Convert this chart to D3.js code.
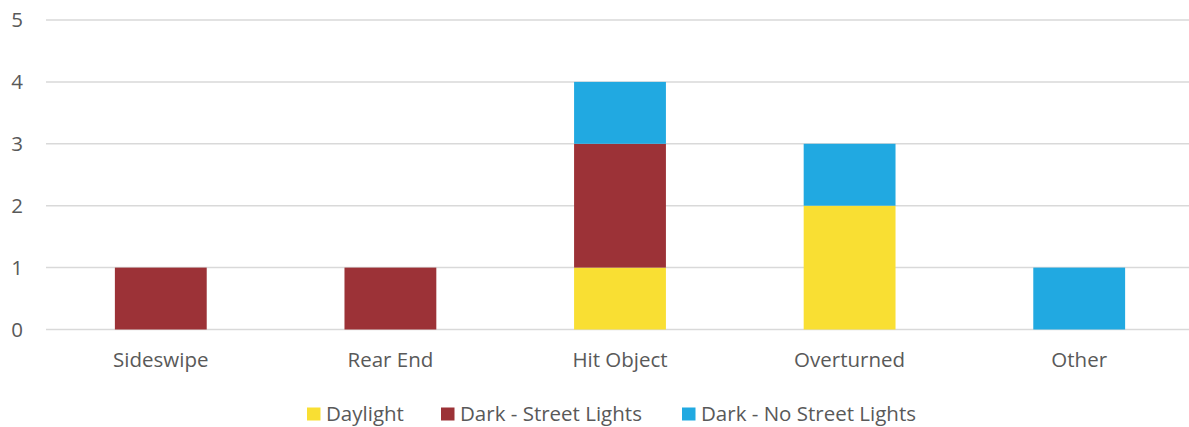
<!DOCTYPE html>
<html>
<head>
<meta charset="utf-8">
<script src="https://cdn.jsdelivr.net/npm/d3@7"></script>
<style>
  body { margin: 0; background: #fff; }
  text { font-family: "Open Sans", sans-serif; fill: #595959; }
</style>
</head>
<body>
<div id="chart"></div>
<script>
// chart data
const categories = ["Sideswipe", "Rear End", "Hit Object", "Overturned", "Other"];
const seriesNames = ["Daylight", "Dark - Street Lights", "Dark - No Street Lights"];
const daylight = [0, 0, 1, 2, 0];
const darkStreetLights = [1, 1, 2, 0, 0];
const darkNoStreetLights = [0, 0, 1, 1, 1];
const yTicks = [0, 1, 2, 3, 4, 5];

const colors = ["#F9DF33", "#9C3237", "#21A9E1"];

const width = 1189, height = 427;
const margin = { top: 20, right: -5, bottom: 97.5, left: 46 };
const fontSize = "20.5px";

const svg = d3.select("#chart").append("svg")
  .attr("width", width)
  .attr("height", height);

const x = d3.scaleBand()
  .domain(categories)
  .range([margin.left, width - margin.right])
  .paddingInner(0.6)
  .paddingOuter(0.3);

const y = d3.scaleLinear()
  .domain([0, 5])
  .range([height - margin.bottom, margin.top]);

// gridlines
svg.append("g")
  .selectAll("line")
  .data(yTicks)
  .join("line")
  .attr("x1", margin.left)
  .attr("x2", width - margin.right)
  .attr("y1", d => y(d))
  .attr("y2", d => y(d))
  .attr("stroke", "#d9d9d9")
  .attr("stroke-width", 1.5);

// y labels
svg.append("g")
  .selectAll("text")
  .data(yTicks)
  .join("text")
  .attr("x", 17)
  .attr("y", d => y(d))
  .attr("dy", "0.35em")
  .attr("text-anchor", "middle")
  .style("font-size", fontSize)
  .text(d => d);

// stack the series
const rows = categories.map((c, i) => ({
  cat: c,
  "Daylight": daylight[i],
  "Dark - Street Lights": darkStreetLights[i],
  "Dark - No Street Lights": darkNoStreetLights[i]
}));
const stacked = d3.stack().keys(seriesNames)(rows);

svg.append("g")
  .selectAll("g")
  .data(stacked)
  .join("g")
  .attr("fill", (d, i) => colors[i])
  .selectAll("rect")
  .data(d => d)
  .join("rect")
  .attr("x", d => x(d.data.cat))
  .attr("width", x.bandwidth())
  .attr("y", d => y(d[1]))
  .attr("height", d => y(d[0]) - y(d[1]));

// x axis labels
svg.append("g")
  .selectAll("text")
  .data(categories)
  .join("text")
  .attr("x", d => x(d) + x.bandwidth() / 2)
  .attr("y", 366.5)
  .attr("text-anchor", "middle")
  .style("font-size", fontSize)
  .text(d => d);

// legend
const legendX = [307, 441, 682];
const legend = svg.append("g")
  .selectAll("g")
  .data(seriesNames)
  .join("g")
  .attr("transform", (d, i) => `translate(${legendX[i]}, 414)`);

legend.append("rect")
  .attr("x", 0)
  .attr("y", -6.5)
  .attr("width", 13.5)
  .attr("height", 13)
  .attr("fill", (d, i) => colors[i]);

legend.append("text")
  .attr("x", 19)
  .attr("y", 6.5)
  .style("font-size", fontSize)
  .text(d => d);
</script>
</body>
</html>
